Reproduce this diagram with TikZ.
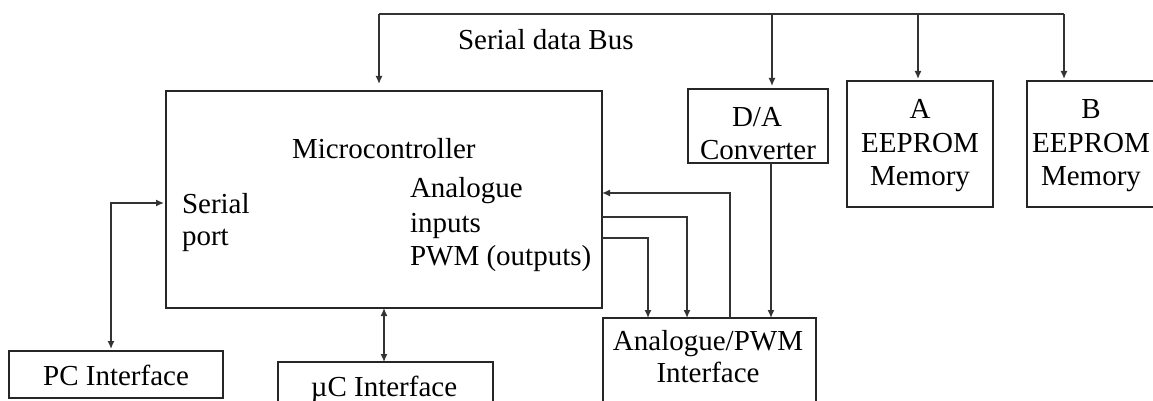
\documentclass[tikz,border=0pt]{standalone}
\usepackage{fontspec}
\setmainfont{Liberation Serif}
\usetikzlibrary{arrows.meta}
\begin{document}
\begin{tikzpicture}[x=1pt,y=-1pt,
  every node/.style={font=\fontsize{29}{35}\selectfont},
  box/.style={draw=black!85, line width=1.3pt, inner sep=0pt, outer sep=0pt, rectangle},
  txt/.style={inner sep=0pt, outer sep=0pt},
  wire/.style={draw=black!80, line width=1.4pt},
  arr/.style={wire, -{Latex[length=8pt,width=7pt]}},
  darr/.style={wire, {Latex[length=8pt,width=7pt]}-{Latex[length=8pt,width=7pt]}}]
\useasboundingbox (0,0) rectangle (1153,401);
% boxes
\node[box, minimum width=436pt, minimum height=217pt] (micro) at (384,199.5) {};
\node[box, minimum width=140pt, minimum height=74pt] (da) at (758,126) {};
\node[box, minimum width=146pt, minimum height=126pt] (ea) at (920,144) {};
\node[box, minimum width=128pt, minimum height=126pt] (eb) at (1091,144) {};
\node[box, minimum width=213pt, minimum height=102pt] (an) at (709.5,369) {};
\node[box, minimum width=214pt, minimum height=47pt] (pc) at (116,374.5) {};
\node[box, minimum width=215pt, minimum height=58pt] (uc) at (385.5,391) {};
% texts
\node[txt, anchor=base west] (tbus) at (458,50) {Serial data Bus};
\node[txt, anchor=base west] (tmc) at (292,158) {Microcontroller};
\node[txt, anchor=base west] (tser) at (182,213) {Serial};
\node[txt, anchor=base west] (tport) at (182,245) {port};
\node[txt, anchor=base west] (tana) at (410,197) {Analogue};
\node[txt, anchor=base west] (tinp) at (410,232) {inputs};
\node[txt, anchor=base west] (tpwm) at (410,265) {PWM (outputs)};
\node[txt, anchor=base] (tda1) at (757,127) {D/A};
\node[txt, anchor=base] (tda2) at (758,159) {Converter};
\node[txt, anchor=base] (ta1) at (920,118) {A};
\node[txt, anchor=base] (ta2) at (920,153) {EEPROM};
\node[txt, anchor=base] (ta3) at (920,185) {Memory};
\node[txt, anchor=base] (tb1) at (1091,118) {B};
\node[txt, anchor=base] (tb2) at (1091,153) {EEPROM};
\node[txt, anchor=base] (tb3) at (1091,185) {Memory};
\node[txt, anchor=base] (tpc) at (116,385) {PC Interface};
\node[txt, anchor=base] (tuc) at (384,396) {µC Interface};
\node[txt, anchor=base] (tan1) at (708,350) {Analogue/PWM};
\node[txt, anchor=base] (tan2) at (708,382) {Interface};
% serial data bus
\coordinate (bus0) at (379,14);
\coordinate (bus1) at (772,14);
\coordinate (bus2) at (918,14);
\coordinate (bus3) at (1064,14);
\draw[wire] (bus0) -- (bus3);
\draw[arr, shorten >=7pt] (bus0) -- (bus0 |- micro.north);
\draw[arr, shorten >=3pt] (bus1) -- (bus1 |- da.north);
\draw[arr, shorten >=2pt] (bus2) -- (bus2 |- ea.north);
\draw[arr, shorten >=2pt] (bus3) -- (bus3 |- eb.north);
% serial port to PC
\coordinate (sp) at (111,203);
\draw[darr, shorten <=2pt, shorten >=2pt] (sp |- pc.north) -- (sp) -- (sp -| micro.west);
% microcontroller to uC interface
\coordinate (ucx) at (384,0);
\draw[darr] (ucx |- micro.south) -- (ucx |- uc.north);
% analogue feedback
\coordinate (fb) at (730,193);
\draw[arr] (fb |- an.north) -- (fb) -- (fb -| micro.east);
% D/A to analogue interface
\coordinate (dax) at (771,0);
\draw[arr] (dax |- da.south) -- (dax |- an.north);
% PWM outputs
\coordinate (p1) at (687,217);
\coordinate (p2) at (648,238);
\draw[arr] (p1 -| micro.east) -- (p1) -- (p1 |- an.north);
\draw[arr] (p2 -| micro.east) -- (p2) -- (p2 |- an.north);
\end{tikzpicture}
\end{document}
